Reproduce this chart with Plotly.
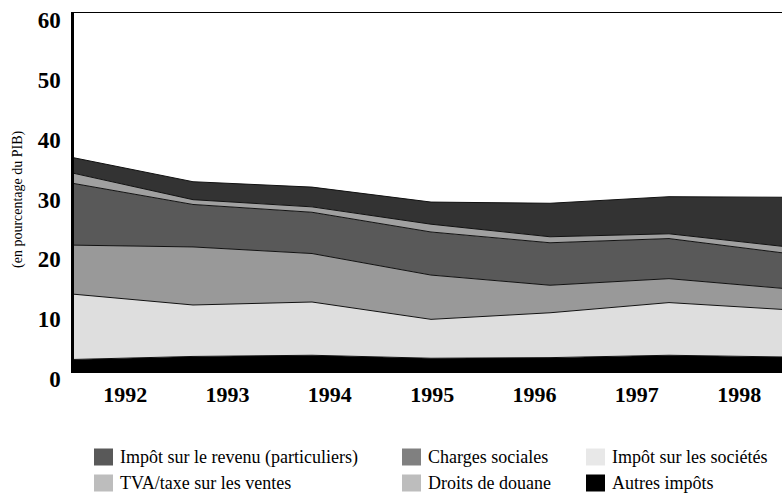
import plotly.graph_objects as go

# ---- data (en pourcentage du PIB) ----
years = [1992, 1993, 1994, 1995, 1996, 1997, 1998]
year_labels = ["1992", "1993", "1994", "1995", "1996", "1997", "1998"]

autres_impots = [2.1, 2.6, 2.8, 2.3, 2.4, 2.8, 2.5]
impot_societes = [10.9, 8.6, 8.9, 6.5, 7.5, 8.8, 7.9]
tva_ventes = [8.2, 9.7, 8.1, 7.4, 4.6, 4.0, 3.5]
impot_revenu = [10.3, 7.1, 6.9, 7.2, 7.1, 6.7, 5.9]
droits_douane = [1.7, 0.8, 0.9, 1.3, 1.0, 0.8, 1.1]
charges_sociales = [2.6, 3.0, 3.3, 3.7, 5.6, 6.2, 8.3]

y_ticks = [0, 10, 20, 30, 40, 50, 60]

# stacking order, bottom to top: (name, values, area colour)
series = [
    ("Autres impôts", autres_impots, "#000000"),
    ("Impôt sur les sociétés", impot_societes, "#dedede"),
    ("TVA/taxe sur les ventes", tva_ventes, "#999999"),
    ("Impôt sur le revenu (particuliers)", impot_revenu, "#595959"),
    ("Droits de douane", droits_douane, "#a0a0a0"),
    ("Charges sociales", charges_sociales, "#333333"),
]

# legend layout (as printed), with legend swatch colours
legend_items = [
    ("Impôt sur le revenu (particuliers)", "#595959"),
    ("Charges sociales", "#808080"),
    ("Impôt sur les sociétés", "#e8e8e8"),
    ("TVA/taxe sur les ventes", "#bdbdbd"),
    ("Droits de douane", "#bdbdbd"),
    ("Autres impôts", "#000000"),
]

W, H = 782, 504
L, T, B = 74, 13, 132
R = 0
plot_w = W - L - R
plot_h = H - T - B
step_px = 119.0  # spacing between data points in pixels

fig = go.Figure()
for name, vals, col in series:
    fig.add_trace(go.Scatter(
        x=years, y=vals, name=name, mode="lines",
        stackgroup="one", fillcolor=col,
        line=dict(color="#111111", width=1),
        showlegend=False, hoverinfo="x+y+name",
    ))

serif = "Liberation Serif"

x_end = years[0] + plot_w / step_px
tick_pos = [years[0] + 0.43 + 0.86 * i for i in range(len(year_labels))]

fig.update_layout(
    width=W, height=H,
    margin=dict(l=L, r=R, t=T, b=B, pad=0),
    paper_bgcolor="white", plot_bgcolor="white",
    font=dict(family=serif, color="#000000"),
    xaxis=dict(
        range=[years[0], x_end], showgrid=False, zeroline=False,
        showline=True, mirror=True, linecolor="#000000", linewidth=1,
        tickvals=tick_pos, ticktext=year_labels, ticks="",
        tickfont=dict(family=serif, size=22, color="#000000", weight="bold"),
        ticklabelstandoff=3,
    ),
    yaxis=dict(
        range=[0, 60], showgrid=False, zeroline=False,
        showline=True, linecolor="#000000", linewidth=2.5,
        tickvals=y_ticks, ticks="",
        tickfont=dict(family=serif, size=23, color="#000000", weight="bold"),
        ticklabelstandoff=6, ticklabelshift=7, ticklabeloverflow="allow",
    ),
)

# y-axis title
fig.add_annotation(
    text="(en pourcentage du PIB)", textangle=-90,
    xref="paper", yref="paper",
    x=(18 - L) / plot_w, y=(H - B - 199) / plot_h,
    xanchor="center", yanchor="middle", showarrow=False,
    font=dict(family=serif, size=14, color="#000000"),
)

# custom legend: 3 columns x 2 rows
col_sq_x = [94, 402, 586]
row_cy = [457, 483]
sq_w, sq_h = 19, 17
for i, (label, col) in enumerate(legend_items):
    r, c = divmod(i, 3)
    x0 = col_sq_x[c]
    cy = row_cy[r]
    fig.add_shape(
        type="rect", xref="paper", yref="paper",
        x0=(x0 - L) / plot_w, x1=(x0 + sq_w - L) / plot_w,
        y0=(H - B - (cy + sq_h / 2)) / plot_h, y1=(H - B - (cy - sq_h / 2)) / plot_h,
        fillcolor=col, line=dict(width=0),
    )
    fig.add_annotation(
        text=label, xref="paper", yref="paper",
        x=(x0 + sq_w + 5 - L) / plot_w, y=(H - B - cy) / plot_h,
        xanchor="left", yanchor="middle", showarrow=False,
        font=dict(family=serif, size=18, color="#000000"),
    )

fig.write_html(
    "out.html",
    config={"displayModeBar": False},
    post_script="document.body.style.margin='0';document.body.style.overflow='hidden';",
)
